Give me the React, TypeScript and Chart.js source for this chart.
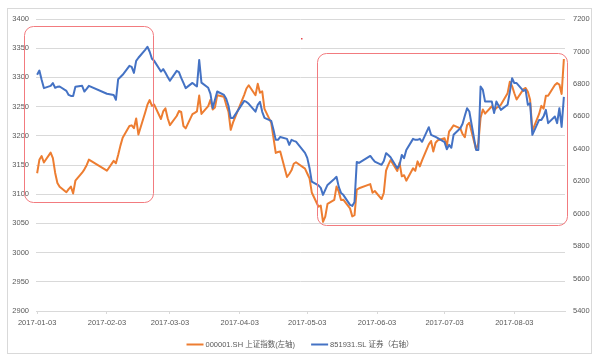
import React, { useEffect, useRef } from "react";
import { Chart, registerables } from "chart.js";

Chart.register(...registerables);

// ---------- data ----------
const dates: string[] = [
  "2017-01-03","2017-01-04","2017-01-05","2017-01-06","2017-01-09","2017-01-10","2017-01-11","2017-01-12","2017-01-13","2017-01-16","2017-01-17","2017-01-18","2017-01-19","2017-01-20","2017-01-23","2017-01-24","2017-01-25","2017-01-26",
  "2017-02-03","2017-02-06","2017-02-07","2017-02-08","2017-02-09","2017-02-10","2017-02-13","2017-02-14","2017-02-15","2017-02-16","2017-02-17","2017-02-20","2017-02-21","2017-02-22","2017-02-23","2017-02-24","2017-02-27","2017-02-28",
  "2017-03-01","2017-03-02","2017-03-03","2017-03-06","2017-03-07","2017-03-08","2017-03-09","2017-03-10","2017-03-13","2017-03-14","2017-03-15","2017-03-16","2017-03-17","2017-03-20","2017-03-21","2017-03-22","2017-03-23","2017-03-24","2017-03-27","2017-03-28","2017-03-29","2017-03-30","2017-03-31",
  "2017-04-05","2017-04-06","2017-04-07","2017-04-10","2017-04-11","2017-04-12","2017-04-13","2017-04-14","2017-04-17","2017-04-18","2017-04-19","2017-04-20","2017-04-21","2017-04-24","2017-04-25","2017-04-26","2017-04-27","2017-04-28",
  "2017-05-02","2017-05-03","2017-05-04","2017-05-05","2017-05-08","2017-05-09","2017-05-10","2017-05-11","2017-05-12","2017-05-15","2017-05-16","2017-05-17","2017-05-18","2017-05-19","2017-05-22","2017-05-23","2017-05-24","2017-05-25","2017-05-26","2017-05-31",
  "2017-06-01","2017-06-02","2017-06-05","2017-06-06","2017-06-07","2017-06-08","2017-06-09","2017-06-12","2017-06-13","2017-06-14","2017-06-15","2017-06-16","2017-06-19","2017-06-20","2017-06-21","2017-06-22","2017-06-23","2017-06-26","2017-06-27","2017-06-28","2017-06-29","2017-06-30",
  "2017-07-03","2017-07-04","2017-07-05","2017-07-06","2017-07-07","2017-07-10","2017-07-11","2017-07-12","2017-07-13","2017-07-14","2017-07-17","2017-07-18","2017-07-19","2017-07-20","2017-07-21","2017-07-24","2017-07-25","2017-07-26","2017-07-27","2017-07-28","2017-07-31",
  "2017-08-01","2017-08-02","2017-08-03","2017-08-04","2017-08-07","2017-08-08","2017-08-09","2017-08-10","2017-08-11","2017-08-14","2017-08-15","2017-08-16","2017-08-17","2017-08-18","2017-08-21","2017-08-22","2017-08-23","2017-08-24","2017-08-25",
];

// 000001.SH 上证指数 (left axis)
const shIndex: number[] = [
  3135.9,3158.8,3165.4,3154.3,3171.2,3161.7,3136.8,3119.3,3112.8,3103.4,3108.8,3113.0,3101.3,3123.1,3136.8,3142.6,3149.6,3159.2,
  3140.2,3157.0,3153.1,3167.0,3183.2,3196.7,3216.8,3217.9,3213.0,3229.6,3202.1,3240.0,3253.3,3261.2,3251.4,3253.4,3228.7,3241.7,
  3246.9,3230.0,3218.3,3233.9,3242.4,3240.7,3216.8,3212.8,3237.0,3239.3,3241.8,3268.9,3237.5,3250.8,3261.6,3245.2,3248.6,3269.5,3267.0,3253.0,3241.3,3210.2,3222.5,
  3270.1,3281.0,3286.6,3269.4,3289.0,3273.8,3276.0,3246.1,3222.2,3196.7,3170.7,3172.2,3173.2,3129.5,3134.6,3140.9,3152.2,3154.7,
  3143.7,3135.4,3127.4,3103.0,3078.6,3080.5,3052.8,3061.5,3083.5,3090.2,3113.0,3104.4,3090.1,3090.6,3075.7,3062.0,3064.1,3107.8,3110.1,3117.2,
  3102.6,3105.5,3091.7,3102.1,3140.3,3150.3,3158.4,3139.9,3153.7,3130.7,3132.5,3123.2,3144.4,3140.0,3156.2,3147.5,3157.9,3185.4,3191.2,3173.2,3188.1,3192.4,
  3195.9,3182.8,3207.1,3212.4,3218.0,3212.6,3203.0,3197.5,3218.2,3222.4,3176.5,3187.6,3231.0,3244.9,3238.0,3250.6,3243.7,3247.7,3249.8,3253.2,3273.0,
  3292.6,3285.1,3272.9,3262.1,3279.5,3281.9,3275.6,3261.8,3208.5,3237.4,3251.3,3246.5,3268.4,3268.7,3286.9,3290.2,3287.7,3271.5,3331.5,
];

// 851931.SL 证券 (right axis)
const secIndex: number[] = [
  6856,6882,6825,6774,6788,6805,6776,6782,6784,6757,6732,6726,6726,6782,6788,6753,6769,6788,
  6739,6732,6702,6829,6842,6856,6911,6905,6868,6942,6961,7010,7029,6998,6955,6942,6876,6891,
  6868,6843,6819,6880,6872,6837,6806,6774,6806,6794,6784,6948,6808,6776,6739,6652,6702,6753,6732,6708,6665,6589,6589,
  6695,6689,6677,6629,6671,6689,6628,6591,6572,6517,6455,6455,6473,6461,6424,6455,6449,6444,
  6375,6344,6282,6198,6174,6159,6116,6147,6177,6214,6227,6165,6128,6116,6054,6048,6072,6319,6313,6356,
  6338,6321,6301,6325,6373,6362,6348,6280,6301,6362,6342,6393,6461,6455,6455,6461,6443,6533,6486,6480,6473,6465,
  6441,6397,6424,6406,6486,6527,6554,6603,6650,6630,6393,6393,6784,6763,6691,6691,6620,6691,6665,6640,6671,
  6751,6835,6805,6805,6757,6763,6671,6681,6486,6578,6578,6600,6640,6558,6599,6558,6650,6535,6720,
];

const xTickDates: string[] = [
  "2017-01-03","2017-02-03","2017-03-03","2017-04-03","2017-05-03","2017-06-03","2017-07-03","2017-08-03",
];

const leftAxis = { min: 2900, max: 3400, step: 50 };
const rightAxis = { min: 5400, max: 7200, step: 200 };

const seriesNames: string[] = ["000001.SH 上证指数(左轴)", "851931.SL 证券（右轴）"];
const seriesColors: string[] = ["#ED7D31", "#4472C4"];

// highlight boxes in data units: day offset from first date, left-axis values
const highlightBoxes = [
  { x0: -5.9, x1: 51.4, y0: 3087, y1: 3388 },
  { x0: 124.3, x1: 235.4, y0: 3047, y1: 3342 },
];
const strayDot = { x: 117.2, y: 3368 };

// ---------- helpers ----------
const DAY = 86400000;
const t0 = Date.parse(dates[0]);
const dayOf = (s: string) => Math.round((Date.parse(s) - t0) / DAY);
const lastDay = dayOf(dates[dates.length - 1]);

const FONT_FAMILY = "'Liberation Sans','Noto Sans CJK SC',sans-serif";
const TEXT_COLOR = "#595959";
const GRID_COLOR = "#D9D9D9";

const boxesPlugin = {
  id: "boxes",
  afterDraw(chart: any) {
    const { ctx } = chart;
    const xs = chart.scales.x;
    const ys = chart.scales.yL;
    ctx.save();
    ctx.strokeStyle = "#F27B7F";
    ctx.lineWidth = 1;
    for (const b of highlightBoxes) {
      const l = xs.getPixelForValue(b.x0);
      const r = xs.getPixelForValue(b.x1);
      const t = ys.getPixelForValue(b.y1);
      const btm = ys.getPixelForValue(b.y0);
      ctx.beginPath();
      ctx.roundRect(Math.round(l) + 0.5, Math.round(t) + 0.5, Math.round(r - l), Math.round(btm - t), 9);
      ctx.stroke();
    }
    ctx.fillStyle = "#E84A50";
    ctx.fillRect(Math.round(xs.getPixelForValue(strayDot.x)), Math.round(ys.getPixelForValue(strayDot.y)), 1.5, 1.5);
    ctx.restore();
  },
};

const legendPlugin = {
  id: "customLegend",
  afterDraw(chart: any) {
    const { ctx } = chart;
    ctx.save();
    ctx.font = `7.5px ${FONT_FAMILY}`;
    ctx.textBaseline = "middle";
    ctx.fillStyle = TEXT_COLOR;
    const lineW = 17;
    const gap = 2;
    const spacing = 16;
    const widths = seriesNames.map((n) => ctx.measureText(n).width);
    const total = widths.reduce((a, w) => a + lineW + gap + w, 0) + spacing;
    let x = chart.width / 2 + 2 - total / 2;
    const y = 344.5;
    seriesNames.forEach((name, i) => {
      ctx.strokeStyle = seriesColors[i];
      ctx.lineWidth = 2;
      ctx.beginPath();
      ctx.moveTo(x, y);
      ctx.lineTo(x + lineW, y);
      ctx.stroke();
      x += lineW + gap;
      ctx.fillText(name, x, y);
      x += widths[i] + spacing;
    });
    ctx.restore();
  },
};

export default function App() {
  const canvasRef = useRef<HTMLCanvasElement | null>(null);

  useEffect(() => {
    if (!canvasRef.current) return;
    const font = { family: FONT_FAMILY, size: 7.5 };
    const plain = (v: any) => String(v);
    const chart = new Chart(canvasRef.current, {
      type: "line",
      data: {
        datasets: [
          {
            label: seriesNames[0],
            data: dates.map((d, i) => ({ x: dayOf(d), y: shIndex[i] })),
            yAxisID: "yL",
            borderColor: seriesColors[0],
            backgroundColor: seriesColors[0],
            borderWidth: 2,
            pointRadius: 0,
            tension: 0,
            borderJoinStyle: "round",
            order: 2,
          },
          {
            label: seriesNames[1],
            data: dates.map((d, i) => ({ x: dayOf(d), y: secIndex[i] })),
            yAxisID: "yR",
            borderColor: seriesColors[1],
            backgroundColor: seriesColors[1],
            borderWidth: 2,
            pointRadius: 0,
            tension: 0,
            borderJoinStyle: "round",
            order: 1,
          },
        ],
      },
      options: {
        animation: false,
        responsive: false,
        layout: { padding: { top: 19, bottom: 27, left: 0, right: 0 } },
        plugins: { legend: { display: false }, tooltip: { enabled: false } },
        scales: {
          x: {
            type: "linear",
            min: -0.5,
            max: lastDay + 0.5,
            afterBuildTicks: (s: any) => {
              s.ticks = xTickDates.map((d) => ({ value: dayOf(d) }));
            },
            afterFit: (s: any) => {
              s.height = 20;
            },
            ticks: {
              autoSkip: false,
              maxRotation: 0,
              color: TEXT_COLOR,
              font,
              padding: 4,
              callback: (_v: any, i: number) => xTickDates[i],
            },
            grid: { drawOnChartArea: false, drawTicks: true, tickLength: 3, color: GRID_COLOR },
            border: { display: true, color: GRID_COLOR },
          },
          yL: {
            position: "left",
            min: leftAxis.min,
            max: leftAxis.max,
            afterFit: (s: any) => {
              s.width = 36;
            },
            ticks: { stepSize: leftAxis.step, color: TEXT_COLOR, font, padding: 7, callback: plain },
            grid: { color: GRID_COLOR, drawTicks: false },
            border: { display: false },
          },
          yR: {
            position: "right",
            min: rightAxis.min,
            max: rightAxis.max,
            afterFit: (s: any) => {
              s.width = 31;
            },
            ticks: { stepSize: rightAxis.step, color: TEXT_COLOR, font, padding: 8, callback: plain },
            grid: { drawOnChartArea: false, drawTicks: false },
            border: { display: false },
          },
        },
      },
      plugins: [boxesPlugin, legendPlugin],
    } as any);
    return () => chart.destroy();
  }, []);

  return (
    <div style={{ position: "absolute", left: 0, top: 0, width: 596, height: 358, background: "#fff" }}>
      <div
        style={{
          position: "absolute",
          left: 7,
          top: 8,
          width: 585,
          height: 346,
          border: "1px solid #D9D9D9",
          boxSizing: "border-box",
        }}
      />
      <canvas
        ref={canvasRef}
        width={596}
        height={358}
        style={{ position: "absolute", left: 0, top: 0, width: 596, height: 358 }}
      />
    </div>
  );
}
